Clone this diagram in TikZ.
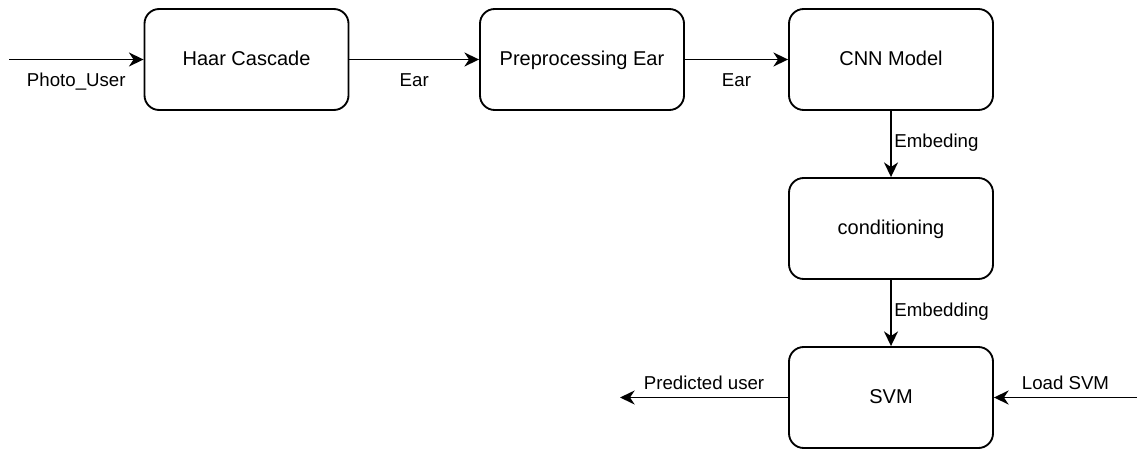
\documentclass[tikz,border=0pt]{standalone}
\usepackage{fontspec}
\setmainfont{Liberation Sans}
\usetikzlibrary{arrows.meta}

\tikzset{
  block/.style={draw, line width=1.4pt, rounded corners=11pt,
    minimum width=153pt, minimum height=75.75pt,
    text height=0.86em, text depth=0pt, font=\fontsize{15}{18}\selectfont},
  flow/.style={line width=1.4pt, -{Stealth[length=11pt, width=10.5pt, inset=3.5pt]}},
  lbl/.style={text height=0.73em, text depth=0.21em, font=\fontsize{14}{17}\selectfont}
}

\begin{document}
\begin{tikzpicture}[x=0.75pt, y=-0.75pt] % pixel grid of the sketch
  \useasboundingbox (0,0) rectangle (1137,449);

  % Blocks
  \node[block] (haar) at (246.5,59.5) {Haar Cascade};
  \node[block] (prep) at (582,59.5) {Preprocessing Ear};
  \node[block] (cnn)  at (891,59.5) {CNN Model};
  \node[block] (cond) at (891,228.5) {conditioning};
  \node[block] (svm)  at (891,397.5) {SVM};

  % Loose ends
  \coordinate (photo) at (9,59.5);
  \coordinate (load)  at (1137,397.5);
  \coordinate (pred)  at (620,397.5);

  % Top row
  \draw[flow] (photo) -- node[lbl, below=8.7pt]{Photo\_User} (haar);
  \draw[flow] (haar) -- node[lbl, below=8.7pt]{Ear} (prep);
  \draw[flow] (prep) -- node[lbl, below=8.7pt]{Ear} (cnn);

  % Down the right column
  \draw[flow] (cnn) -- node[lbl, right=-1.5pt]{Embeding} (cond);
  \draw[flow] (cond) -- node[lbl, right=-1.5pt]{Embedding} (svm);

  % SVM in and out
  \draw[flow] (load) -- node[lbl, above=-0.5pt]{Load SVM} (svm);
  \draw[flow] (svm) -- node[lbl, above=-0.5pt]{Predicted user} (pred);
\end{tikzpicture}
\end{document}
